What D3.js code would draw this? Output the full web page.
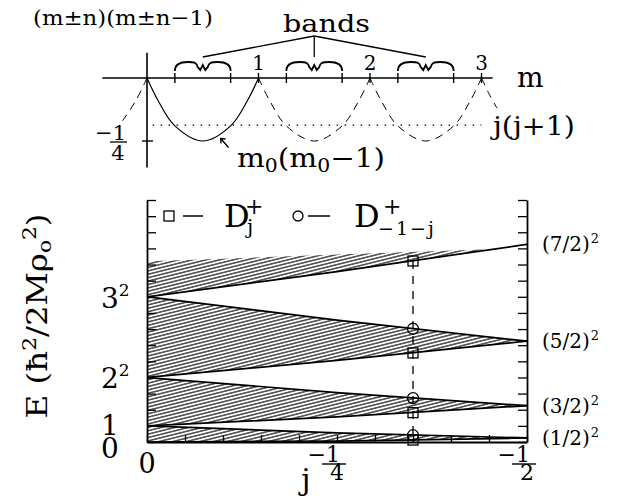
<!DOCTYPE html>
<html>
<head>
<meta charset="utf-8">
<script src="https://cdn.jsdelivr.net/npm/d3@7"></script>
<style>
body { margin: 0; background: #fff; }
text { font-family: "DejaVu Serif", serif; fill: #000; }
</style>
</head>
<body>
<div id="chart"></div>
<script>
// ---- top panel: (m+-n)(m+-n-1) against m
var mTicks = [1, 2, 3];
var mTickLabels = ["1", "2", "3"];
var bandStart = [0.25, 1.25, 2.25];
var bandEnd = [0.75, 1.75, 2.75];
// one arch of m0(m0-1), read at offsets inside a unit interval
var archOffset = [0, 0.1, 0.25, 0.5, 0.75, 0.9, 1];
var archValue = [0, -0.09, -0.19, -0.25, -0.19, -0.09, 0];
var solidArchStart = [0];
var dashedArchStart = [1, 2];
var leftTailM = [0, -0.1, -0.22];
var leftTailV = [0, -0.09, -0.17];
var rightTailM = [3, 3.07, 3.14];
var rightTailV = [0, -0.065, -0.12];
var jjLevel = -0.187;

// ---- bottom panel: E against j
var jGrid = [0, -0.25, -0.5];
var edgeA = [0, 0.06, 0.25];
var edgeB = [1, 0.56, 0.25];
var edgeC = [1, 1.56, 2.25];
var edgeD = [4, 3.06, 2.25];
var edgeE = [4, 5.06, 6.25];
var edgeF = [9, 7.56, 6.25];
var edgeG = [9, 10.56, 12.25];
// top band hatching only runs part way up
var jTopGrid = [0, -0.25, -0.46];
var topLower = [9, 10.56, 11.97];
var topUpper = [11.2, 11.62, 11.97];

var markerJ = -0.35;
var squareE = [11.22, 5.52, 1.82, 0.12];
var circleE = [7.02, 2.72, 0.42];

var leftLabelE = [9, 4, 1, 0];
var leftLabelBase = ["3", "2", "1", "0"];
var leftLabelSup = ["2", "2", "", ""];
var rightLabelE = [12.25, 6.25, 2.25, 0.25];
var rightLabelText = ["(7/2)", "(5/2)", "(3/2)", "(1/2)"];

var svg = d3.select("#chart").append("svg")
	.attr("width", 620)
	.attr("height", 504);

var defs = svg.append("defs");
defs.append("pattern")
	.attr("id", "hatch")
	.attr("patternUnits", "userSpaceOnUse")
	.attr("width", 12).attr("height", 3.3)
	.attr("patternTransform", "rotate(-14)")
  .append("line")
	.attr("x1", 0).attr("x2", 12).attr("y1", 1.65).attr("y2", 1.65)
	.attr("stroke", "#000").attr("stroke-width", 1.1);

// ================= top panel =================
var xm = d3.scaleLinear().domain([0, 3]).range([147, 481.5]);
var ym = d3.scaleLinear().domain([0, -0.25]).range([78, 141]);
var tp = svg.append("g");

tp.append("line")
	.attr("x1", xm(-0.4)).attr("x2", xm(3.1))
	.attr("y1", ym(0)).attr("y2", ym(0))
	.attr("stroke", "#000").attr("stroke-width", 1.6);
tp.append("line")
	.attr("x1", xm(0)).attr("x2", xm(0))
	.attr("y1", ym(0.1)).attr("y2", ym(-0.355))
	.attr("stroke", "#000").attr("stroke-width", 1.6);

// ticks across the m axis
tp.selectAll(".mtick")
	.data(bandStart.concat(bandEnd).concat(mTicks))
	.enter().append("line")
	.attr("x1", function(d) { return xm(d); })
	.attr("x2", function(d) { return xm(d); })
	.attr("y1", ym(0) - 5).attr("y2", ym(0) + 5)
	.attr("stroke", "#000").attr("stroke-width", 1.4);
// -1/4 tick
tp.append("line")
	.attr("x1", xm(0) - 5).attr("x2", xm(0) + 6)
	.attr("y1", ym(-0.25)).attr("y2", ym(-0.25))
	.attr("stroke", "#000").attr("stroke-width", 1.4);

tp.selectAll(".mlab")
	.data(mTicks)
	.enter().append("text")
	.attr("x", function(d) { return xm(d); })
	.attr("y", 70)
	.attr("text-anchor", "middle")
	.attr("font-size", 20)
	.text(function(d, i) { return mTickLabels[i]; });

var curve = d3.line().curve(d3.curveCatmullRom);
function arch(s) {
	return archOffset.map(function(o, i) { return [xm(s + o), ym(archValue[i])]; });
}
solidArchStart.forEach(function(s) {
	tp.append("path").attr("d", curve(arch(s)))
		.attr("fill", "none").attr("stroke", "#000").attr("stroke-width", 1.2);
});
dashedArchStart.forEach(function(s) {
	tp.append("path").attr("d", curve(arch(s)))
		.attr("fill", "none").attr("stroke", "#000").attr("stroke-width", 1)
		.attr("stroke-dasharray", "8,6");
});
[[leftTailM, leftTailV], [rightTailM, rightTailV]].forEach(function(t) {
	var pts = t[0].map(function(m, i) { return [xm(m), ym(t[1][i])]; });
	tp.append("path").attr("d", curve(pts))
		.attr("fill", "none").attr("stroke", "#000").attr("stroke-width", 1)
		.attr("stroke-dasharray", "8,6");
});

// dotted j(j+1) level
tp.append("line")
	.attr("x1", xm(0.05)).attr("x2", xm(3))
	.attr("y1", ym(jjLevel)).attr("y2", ym(jjLevel))
	.attr("stroke", "#000").attr("stroke-width", 1.3)
	.attr("stroke-dasharray", "1.5,6.5");

// braces over the bands
bandStart.forEach(function(b, i) {
	var x0 = xm(b), x1 = xm(bandEnd[i]), c = (x0 + x1) / 2;
	var p = "M" + x0 + ",71 C" + x0 + ",64 " + (x0 + 6) + ",62 " + (x0 + 13) + ",62" +
		" C" + (x0 + 20) + ",62 " + (c - 6) + ",63 " + (c - 5) + ",67" +
		" L" + (c - 2.5) + ",70 L" + c + ",65 L" + (c + 2.5) + ",70 L" + (c + 5) + ",67" +
		" C" + (c + 6) + ",63 " + (x1 - 20) + ",62 " + (x1 - 13) + ",62" +
		" C" + (x1 - 6) + ",62 " + x1 + ",64 " + x1 + ",71";
	tp.append("path").attr("d", p)
		.attr("fill", "none").attr("stroke", "#000").attr("stroke-width", 1.8);
	tp.append("line")
		.attr("x1", xm(1.5)).attr("y1", 36)
		.attr("x2", c).attr("y2", 57)
		.attr("stroke", "#000").attr("stroke-width", 1.3);
});

tp.append("text").attr("x", 283).attr("y", 32)
	.attr("font-size", 25).attr("textLength", 87).attr("lengthAdjust", "spacingAndGlyphs")
	.text("bands");
tp.append("text").attr("x", 33).attr("y", 25)
	.attr("font-size", 21).attr("textLength", 180).attr("lengthAdjust", "spacingAndGlyphs")
	.text("(m\u00b1n)(m\u00b1n\u22121)");
tp.append("text").attr("x", 517).attr("y", 87)
	.attr("font-size", 28).text("m");
tp.append("text").attr("x", 493).attr("y", 135)
	.attr("font-size", 26).attr("textLength", 82).attr("lengthAdjust", "spacingAndGlyphs")
	.text("j(j+1)");

// -1/4 fraction
tp.append("text").attr("x", 126).attr("y", 140).attr("text-anchor", "end")
	.attr("font-size", 21).text("\u22121");
tp.append("line").attr("x1", 110).attr("x2", 127).attr("y1", 142).attr("y2", 142)
	.attr("stroke", "#000").attr("stroke-width", 1.3);
tp.append("text").attr("x", 118).attr("y", 160).attr("text-anchor", "middle")
	.attr("font-size", 21).text("4");

// arrow to the solid arch
var tipX = xm(0.66), tipY = ym(-0.24);
tp.append("path")
	.attr("d", "M" + (tipX + 8) + "," + (tipY + 9) + " L" + tipX + "," + tipY +
		" M" + (tipX + 5) + "," + (tipY + 0.5) + " L" + tipX + "," + tipY + " L" + (tipX + 0.5) + "," + (tipY + 5))
	.attr("fill", "none").attr("stroke", "#000").attr("stroke-width", 1.3);
var mlab = tp.append("text").attr("x", 237).attr("y", 167).attr("font-size", 26)
	.attr("textLength", 148).attr("lengthAdjust", "spacingAndGlyphs");
mlab.append("tspan").text("m");
mlab.append("tspan").attr("font-size", 18).attr("dy", 5).text("0");
mlab.append("tspan").attr("dy", -5).text("(m");
mlab.append("tspan").attr("font-size", 18).attr("dy", 5).text("0");
mlab.append("tspan").attr("dy", -5).text("\u22121)");

// ================= bottom panel =================
var xj = d3.scaleLinear().domain([0, -0.5]).range([147, 527]);
var yE = d3.scaleLinear().domain([0, 15]).range([442, 200]);
var bp = svg.append("g");

function rows(js, lo, hi) {
	return js.map(function(j, i) { return { j: j, lo: lo[i], hi: hi ? hi[i] : lo[i] }; });
}
var area = d3.area()
	.x(function(d) { return xj(d.j); })
	.y0(function(d) { return yE(d.lo); })
	.y1(function(d) { return yE(d.hi); })
	.curve(d3.curveMonotoneX);
var bandRows = [
	rows(jGrid, edgeA, edgeB),
	rows(jGrid, edgeC, edgeD),
	rows(jGrid, edgeE, edgeF),
	rows(jTopGrid, topLower, topUpper)
];
bp.selectAll(".band")
	.data(bandRows)
	.enter().append("path")
	.attr("d", area)
	.attr("fill", "url(#hatch)");

var eLine = d3.line()
	.x(function(d) { return xj(d.j); })
	.y(function(d) { return yE(d.lo); })
	.curve(d3.curveMonotoneX);
bp.selectAll(".edge")
	.data([edgeA, edgeB, edgeC, edgeD, edgeE, edgeF, edgeG].map(function(e) { return rows(jGrid, e); }))
	.enter().append("path")
	.attr("d", eLine)
	.attr("fill", "none").attr("stroke", "#000").attr("stroke-width", 1.7);

// axes
var eTicks = d3.range(0, 16);
var jTicks = d3.range(0, 11).map(function(k) { return -0.05 * k; });
function styleAxis(g) {
	g.select(".domain").attr("stroke-width", 1.8);
	g.selectAll(".tick line").attr("stroke-width", 1.3);
}
bp.append("g").attr("transform", "translate(" + xj(0) + ",0)")
	.call(d3.axisRight(yE).tickValues(eTicks).tickSize(9).tickSizeOuter(0).tickFormat(""))
	.call(styleAxis);
bp.append("g").attr("transform", "translate(" + xj(-0.5) + ",0)")
	.call(d3.axisLeft(yE).tickValues(eTicks).tickSize(9).tickSizeOuter(0).tickFormat(""))
	.call(styleAxis);
bp.append("g").attr("transform", "translate(0," + yE(0) + ")")
	.call(d3.axisTop(xj).tickValues(jTicks).tickSize(7).tickSizeOuter(0).tickFormat(""))
	.call(styleAxis);

// vertical dashed line and markers
bp.append("line")
	.attr("x1", xj(markerJ)).attr("x2", xj(markerJ))
	.attr("y1", yE(d3.max(squareE))).attr("y2", yE(d3.min(squareE)))
	.attr("stroke", "#000").attr("stroke-width", 1.3).attr("stroke-dasharray", "8,7");
bp.selectAll(".sq")
	.data(squareE)
	.enter().append("rect")
	.attr("x", xj(markerJ) - 5)
	.attr("y", function(d) { return yE(d) - 5; })
	.attr("width", 10).attr("height", 10)
	.attr("fill", "none").attr("stroke", "#000").attr("stroke-width", 1.3);
bp.selectAll(".ci")
	.data(circleE)
	.enter().append("circle")
	.attr("cx", xj(markerJ))
	.attr("cy", function(d) { return yE(d); })
	.attr("r", 5.5)
	.attr("fill", "none").attr("stroke", "#000").attr("stroke-width", 1.3);

// legend
bp.append("rect").attr("x", 164).attr("y", 211).attr("width", 10).attr("height", 10)
	.attr("fill", "none").attr("stroke", "#000").attr("stroke-width", 1.3);
bp.append("line").attr("x1", 183).attr("x2", 203).attr("y1", 216).attr("y2", 216)
	.attr("stroke", "#000").attr("stroke-width", 1.5);
var lg1 = bp.append("text").attr("x", 224).attr("y", 227).attr("font-size", 32);
lg1.append("tspan").text("D");
lg1.append("tspan").attr("font-size", 22).attr("dx", -4.6).attr("dy", -13).text("+");
lg1.append("tspan").attr("font-size", 20).attr("dx", -16.4).attr("dy", 20).text("j");
bp.append("circle").attr("cx", 298).attr("cy", 216).attr("r", 5)
	.attr("fill", "none").attr("stroke", "#000").attr("stroke-width", 1.3);
bp.append("line").attr("x1", 308).attr("x2", 330).attr("y1", 216).attr("y2", 216)
	.attr("stroke", "#000").attr("stroke-width", 1.5);
var lg2 = bp.append("text").attr("x", 354).attr("y", 227).attr("font-size", 32);
lg2.append("tspan").text("D");
lg2.append("tspan").attr("font-size", 22).attr("dx", 3.4).attr("dy", -13).text("+");
lg2.append("tspan").attr("font-size", 19).attr("dx", -23.4).attr("dy", 21)
	.attr("letter-spacing", 2).text("\u22121\u2212j");

// left labels
leftLabelE.forEach(function(e, i) {
	var y = yE(e);
	var t = bp.append("text").attr("x", 101).attr("y", y + (e === 0 ? 16 : e === 1 ? 9 : 11))
		.attr("font-size", 28);
	t.append("tspan").text(leftLabelBase[i]);
	if (leftLabelSup[i]) {
		t.append("tspan").attr("font-size", 17).attr("dx", 0).attr("dy", -12).text(leftLabelSup[i]);
	}
});

// right labels, superscript placed right after the bracket
rightLabelE.forEach(function(e, i) {
	var y = yE(e);
	var t = bp.append("text").attr("x", 542).attr("y", y + 7)
		.attr("font-size", 20);
	t.append("tspan").text(rightLabelText[i]);
	t.append("tspan").attr("font-size", 13).attr("dx", 1).attr("dy", -8).text("2");
});

// x labels
bp.append("text").attr("x", xj(0)).attr("y", 473).attr("text-anchor", "middle")
	.attr("font-size", 27).text("0");
function frac(x, den) {
	bp.append("text").attr("x", x + 3).attr("y", 462).attr("text-anchor", "end")
		.attr("font-size", 22).text("\u22121");
	bp.append("line").attr("x1", x - 15).attr("x2", x + 9).attr("y1", 464).attr("y2", 464)
		.attr("stroke", "#000").attr("stroke-width", 1.4);
	bp.append("text").attr("x", x).attr("y", 480).attr("text-anchor", "middle")
		.attr("font-size", 22).text(den);
}
frac(xj(-0.25), "4");
frac(xj(-0.5), "2");

bp.append("text").attr("x", 306).attr("y", 490).attr("text-anchor", "middle")
	.attr("font-size", 30).text("j");

// y label
var yl = bp.append("text")
	.attr("transform", "translate(47,316) rotate(-90)")
	.attr("text-anchor", "middle")
	.attr("font-size", 27)
	.attr("textLength", 205).attr("lengthAdjust", "spacingAndGlyphs");
yl.append("tspan").text("E (\u0127");
yl.append("tspan").attr("font-size", 18).attr("dy", -11).text("2");
yl.append("tspan").attr("dy", 11).text("/2M\u03c1");
yl.append("tspan").attr("font-size", 18).attr("dy", 4).text("o");
yl.append("tspan").attr("font-size", 18).attr("dy", -15).text("2");
yl.append("tspan").attr("dy", 11).text(")");
</script>
</body>
</html>
